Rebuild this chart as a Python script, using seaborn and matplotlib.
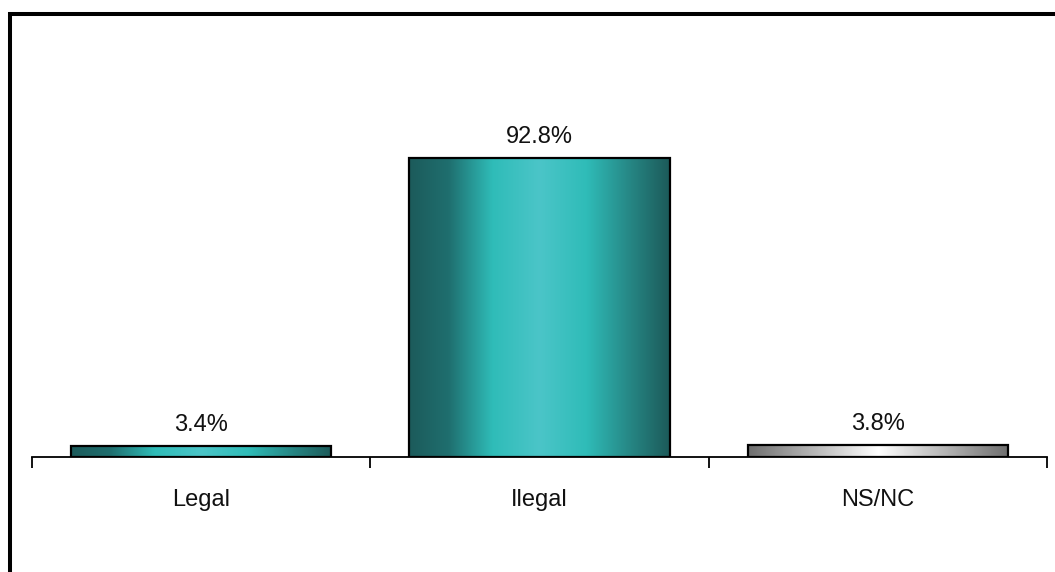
import numpy as np
import pandas as pd
import matplotlib
matplotlib.use("Agg")
import matplotlib.pyplot as plt
from matplotlib.colors import LinearSegmentedColormap
from matplotlib.lines import Line2D
import seaborn as sns

categories = ["Legal", "Ilegal", "NS/NC"]
values = [3.4, 92.8, 3.8]
value_labels = ["3.4%", "92.8%", "3.8%"]

sns.set_theme(style="white")
plt.rcParams['font.family'] = ['Liberation Sans', 'DejaVu Sans']

W, H = 1055, 572
fig = plt.figure(figsize=(W / 100, H / 100), dpi=100)
ax = fig.add_axes([32 / W, 1 - 457 / H, (1047 - 32) / W, (457 - 135) / H])

df = pd.DataFrame({"cat": categories, "val": values})
sns.barplot(data=df, x="cat", y="val", ax=ax, width=0.77,
            color="#2fbcb8", edgecolor="black", linewidth=1.6, zorder=3)

teal = LinearSegmentedColormap.from_list("teal", [
    (0.0, "#1c5b5b"), (0.15, "#1f6e6e"), (0.32, "#2fbcb8"),
    (0.5, "#4bc5c8"), (0.68, "#2fbcb8"), (0.85, "#268684"), (1.0, "#1c5a59")])
gray = LinearSegmentedColormap.from_list("gray", [
    (0.0, "#6e6e6e"), (0.5, "#ffffff"), (1.0, "#6e6e6e")])
cmaps = [teal, teal, gray]

grad = np.linspace(0, 1, 256).reshape(1, -1)
for patch, cm in zip(ax.patches, cmaps):
    patch.set_facecolor("none")
    patch.set_edgecolor("black")
    x0, y0 = patch.get_x(), patch.get_y()
    w, h = patch.get_width(), patch.get_height()
    im = ax.imshow(grad, cmap=cm, aspect="auto", interpolation="bilinear",
                   extent=(x0, x0 + w, y0, y0 + h), zorder=2)
    im.set_clip_path(patch)

ax.bar_label(ax.containers[0], labels=value_labels, padding=7,
             fontsize=17, color="#111111")

ax.set_xlim(-0.5, 2.5)
ax.set_ylim(0, 100)
ax.set_xlabel("")
ax.set_ylabel("")
ax.set_yticks([])
for s in ["top", "right", "left"]:
    ax.spines[s].set_visible(False)
ax.spines["bottom"].set_linewidth(1.3)
ax.spines["bottom"].set_color("black")

ax.set_xticks(range(len(categories)))
ax.set_xticklabels(categories, fontsize=17, color="#111111")
ax.tick_params(axis="x", which="major", length=0, pad=23)
ax.set_xticks([-0.5, 0.5, 1.5, 2.5], minor=True)
ax.tick_params(axis="x", which="minor", bottom=True, length=8, width=1.3,
               color="black", direction="out")

# outer frame (top and left visible)
fig.add_artist(Line2D([8 / W, 1.0], [1 - 14 / H, 1 - 14 / H],
                      color="black", linewidth=2.9, solid_capstyle="butt",
                      transform=fig.transFigure))
fig.add_artist(Line2D([10 / W, 10 / W], [1 - 12 / H, 0.0],
                      color="black", linewidth=2.9, solid_capstyle="butt",
                      transform=fig.transFigure))

fig.savefig("out.png", dpi=100)
